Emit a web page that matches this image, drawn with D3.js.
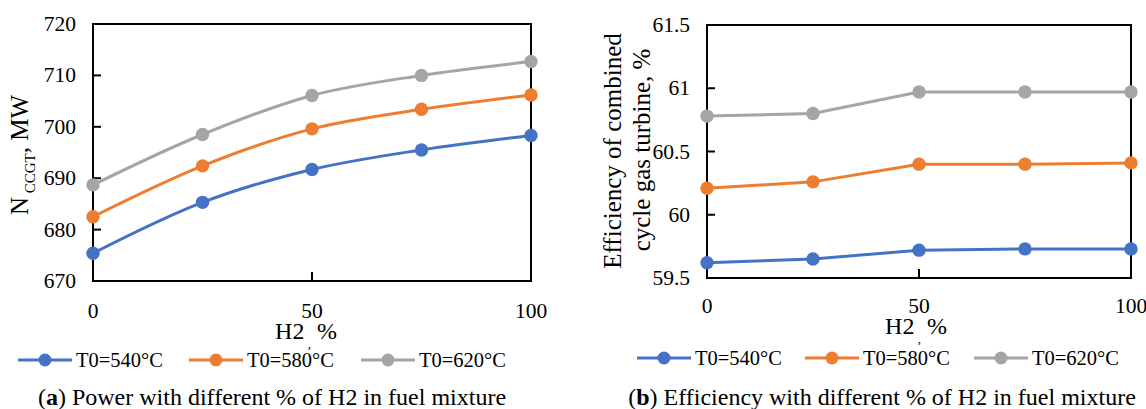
<!DOCTYPE html>
<html>
<head>
<meta charset="utf-8">
<script src="https://cdn.jsdelivr.net/npm/d3@7"></script>
<style>
  body { margin: 0; background: #fff; }
  svg { display: block; font-family: "Liberation Serif", "Times New Roman", serif; }
</style>
</head>
<body>
<svg id="chart" width="1146" height="409"></svg>
<script>
// H2 share in the fuel mixture, %
const h2Pct = [0, 25, 50, 75, 100];
const seriesNames = ['T0=540°C', 'T0=580°C', 'T0=620°C'];

// (a) power of the CCGT, MW
const powerT540 = [675.4, 685.3, 691.7, 695.5, 698.3];
const powerT580 = [682.5, 692.4, 699.6, 703.4, 706.2];
const powerT620 = [688.7, 698.5, 706.1, 710.0, 712.7];

// (b) efficiency of the combined cycle, %
const effT540 = [59.62, 59.65, 59.72, 59.73, 59.73];
const effT580 = [60.21, 60.26, 60.40, 60.40, 60.41];
const effT620 = [60.78, 60.80, 60.97, 60.97, 60.97];

const xTicks = [0, 50, 100];
const powerTicks = [670, 680, 690, 700, 710, 720];
const effTicks = [59.5, 60, 60.5, 61, 61.5];

const colors = ['#4472c4', '#ed7d31', '#a5a5a5'];

const svg = d3.select('#chart');
svg.append('rect').attr('width', 1146).attr('height', 409).attr('fill', '#fff');

function drawPanel(cfg) {
    const g = svg.append('g');

    const x = d3.scaleLinear().domain([0, 100]).range([cfg.left, cfg.right]);
    const y = d3.scaleLinear().domain(cfg.yDomain).range([cfg.bottom, cfg.top]);

    // inner y ticks
    g.selectAll('.ytick')
        .data(cfg.yTicks.slice(1, -1))
        .join('line')
        .attr('x1', cfg.left).attr('x2', cfg.left + 8)
        .attr('y1', d => y(d)).attr('y2', d => y(d))
        .attr('stroke', '#000').attr('stroke-width', 2);

    // inner x tick at 50
    g.append('line')
        .attr('x1', x(50)).attr('x2', x(50))
        .attr('y1', cfg.bottom).attr('y2', cfg.bottom - 9)
        .attr('stroke', '#000').attr('stroke-width', 2);

    g.append('rect')
        .attr('x', cfg.left).attr('y', cfg.top)
        .attr('width', cfg.right - cfg.left).attr('height', cfg.bottom - cfg.top)
        .attr('fill', 'none').attr('stroke', '#000').attr('stroke-width', 2);

    g.selectAll('.ylab')
        .data(cfg.yTicks)
        .join('text')
        .attr('x', cfg.left - 17)
        .attr('y', d => y(d) + 7)
        .attr('text-anchor', 'end')
        .style('font-size', '21.5px')
        .text(d => String(d));

    g.selectAll('.xlab')
        .data(xTicks)
        .join('text')
        .attr('x', d => x(d))
        .attr('y', cfg.bottom + cfg.xLabGap)
        .attr('text-anchor', 'middle')
        .style('font-size', '21.5px')
        .text(d => d);

    // x axis title: "H2" , "%"
    const xt = g.append('text')
        .attr('x', x(50) + cfg.xTitleShift)
        .attr('y', cfg.bottom + cfg.xLabGap + 21)
        .attr('text-anchor', 'middle')
        .style('font-size', '24px');
    xt.append('tspan').text('H2');
    xt.append('tspan').attr('dy', 9).style('font-size', '13px').text(' ,');
    xt.append('tspan').attr('dy', -9).text(' %');

    const line = d3.line()
        .x((d, i) => x(h2Pct[i]))
        .y(d => y(d))
        .curve(cfg.smooth ? d3.curveCatmullRom.alpha(0.5) : d3.curveLinear);

    cfg.series.forEach((vals, k) => {
        g.append('path')
            .datum(vals)
            .attr('fill', 'none')
            .attr('stroke', colors[k])
            .attr('stroke-width', 3)
            .attr('d', line);
        g.selectAll(null)
            .data(vals)
            .join('circle')
            .attr('cx', (d, i) => x(h2Pct[i]))
            .attr('cy', d => y(d))
            .attr('r', 6.7)
            .attr('fill', colors[k]);
    });

    // legend
    const lg = g.append('g').attr('transform', `translate(0,${cfg.legendY})`);
    seriesNames.forEach((name, k) => {
        const lx = cfg.legendX[k];
        lg.append('line')
            .attr('x1', lx).attr('x2', lx + 54)
            .attr('stroke', colors[k]).attr('stroke-width', 3);
        lg.append('circle')
            .attr('cx', lx + 27).attr('r', 6.5).attr('fill', colors[k]);
        lg.append('text')
            .attr('x', lx + 58).attr('y', 7)
            .style('font-size', '20.5px')
            .text(name);
    });

    // caption
    const cap = g.append('text')
        .attr('x', cfg.captionX)
        .attr('y', 405)
        .attr('text-anchor', 'middle')
        .style('font-size', '24px');
    cap.append('tspan').text('(');
    cap.append('tspan').style('font-weight', 'bold').text(cfg.captionTag);
    cap.append('tspan').text(') ' + cfg.caption);

    return g;
}

const gA = drawPanel({
    left: 93, right: 531, top: 24, bottom: 281,
    yDomain: [670, 720], yTicks: powerTicks,
    series: [powerT540, powerT580, powerT620], smooth: true,
    xLabGap: 37, xTitleShift: -6,
    legendY: 360, legendX: [18, 189, 361],
    captionX: 272, captionTag: 'a',
    caption: 'Power with different % of H2 in fuel mixture'
});

// y title (a): N with subscript CCGT
const ta = gA.append('text')
    .attr('transform', 'translate(28,155) rotate(-90)')
    .attr('text-anchor', 'middle')
    .style('font-size', '25px');
ta.append('tspan').text('N');
ta.append('tspan').attr('dy', 7).style('font-size', '15px').text(' CCGT');
ta.append('tspan').attr('dy', -7).text(', MW');

const gB = drawPanel({
    left: 707, right: 1131, top: 25, bottom: 278,
    yDomain: [59.5, 61.5], yTicks: effTicks,
    series: [effT540, effT580, effT620], smooth: false,
    xLabGap: 35, xTitleShift: -3,
    legendY: 358, legendX: [637, 805, 974],
    captionX: 882, captionTag: 'b',
    caption: 'Efficiency with different % of H2 in fuel mixture'
});

gB.append('text')
    .attr('transform', 'translate(621,151) rotate(-90)')
    .attr('text-anchor', 'middle')
    .style('font-size', '25px')
    .text('Efficiency of combined');
gB.append('text')
    .attr('transform', 'translate(650,150) rotate(-90)')
    .attr('text-anchor', 'middle')
    .style('font-size', '25px')
    .text('cycle gas turbine, %');
</script>
</body>
</html>
